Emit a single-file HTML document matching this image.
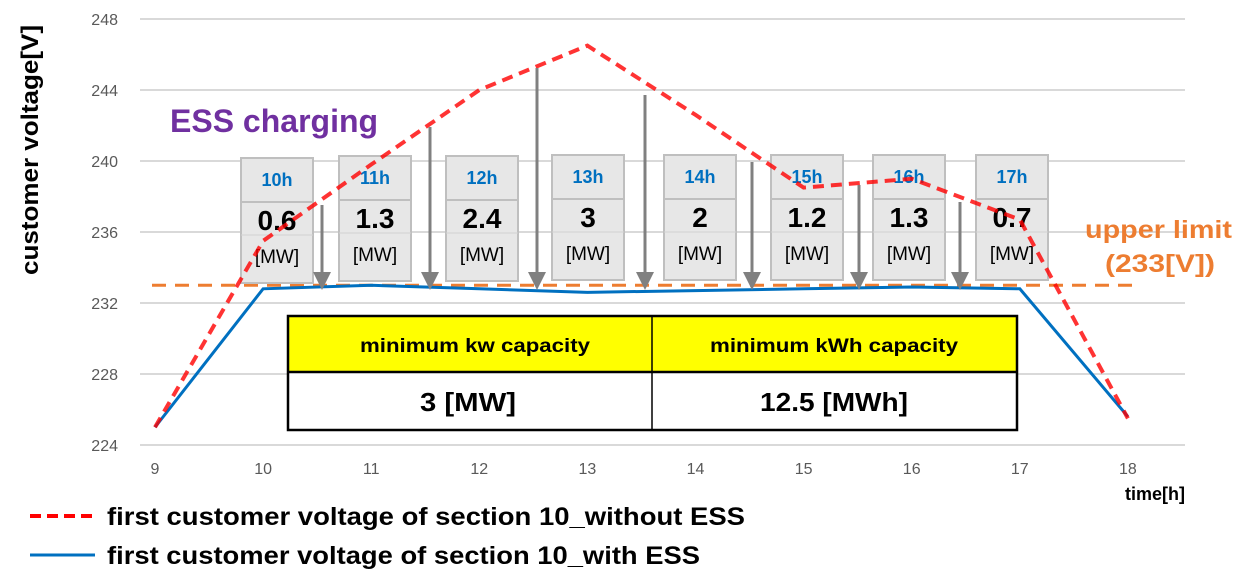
<!DOCTYPE html>
<html><head><meta charset="utf-8"><style>
body{margin:0;background:#fff;}
svg text{font-family:"Liberation Sans",sans-serif;}
</style></head><body>
<svg id="chart" width="1236" height="579" viewBox="0 0 1236 579" xmlns="http://www.w3.org/2000/svg">
<g id="grid"></g>
<g id="ylabels"></g>
<g id="xlabels"></g>
<g id="lines"></g>
<g id="boxes"></g>
<g id="redgroup"></g>
<g id="arrows"></g>
</svg>
<script>
const hours=[9,10,11,12,13,14,15,16,17,18];
const withoutESS=[225.0,235.5,239.8,244.0,246.5,242.6,238.5,239.0,236.7,225.5];
const withESS=[225.0,232.8,233.0,232.8,232.6,232.7,232.8,232.9,232.8,225.6];
const yTicks=[224,228,232,236,240,244,248];
const upperLimit=233;
const boxHours=["10h","11h","12h","13h","14h","15h","16h","17h"];
const boxMW=["0.6","1.3","2.4","3","2","1.2","1.3","0.7"];
const NS="http://www.w3.org/2000/svg";
const svg=document.getElementById('chart');
function X(h){return 155+(h-9)*108.1;}
function Y(v){return 445-(v-224)*17.75;}
function mk(tag,attrs,parent,text){const e=document.createElementNS(NS,tag);for(const k in attrs)e.setAttribute(k,attrs[k]);if(text!==undefined)e.textContent=text;(parent||svg).appendChild(e);return e;}
const grid=document.getElementById('grid'),yl=document.getElementById('ylabels'),xl=document.getElementById('xlabels'),ln=document.getElementById('lines'),bx=document.getElementById('boxes'),rg=document.getElementById('redgroup'),ag=document.getElementById('arrows');
yTicks.forEach(t=>{
 const g=mk('line',{x1:140,x2:1185,y1:Y(t),y2:Y(t),stroke:'#d9d9d9','stroke-width':2},grid);
 
 
 const l=mk('text',{x:118,y:Y(t)+6,'text-anchor':'end','font-size':16,fill:'#595959'},yl,String(t));
 
 
});
hours.forEach(h=>{
 const l=mk('text',{x:X(h),y:474,'text-anchor':'middle','font-size':16,fill:'#595959'},xl,String(h));
 
 
});
const ul=mk('line',{x1:152,x2:1135,y1:Y(upperLimit),y2:Y(upperLimit),stroke:'#ed7d31','stroke-width':3,'stroke-dasharray':'14 9'},ln);


const pb=mk('polyline',{points:hours.map((h,i)=>X(h)+','+Y(withESS[i])).join(' '),fill:'none',stroke:'#0070c0','stroke-width':3},ln);


const boxX=[241,339,446,552,664,771,873,976];
const boxY=[158,156,156,155,155,155,155,155];
const arrowX=[322,430,537,645,752,859,960];
const arrowTop=[205,127,68,95,162,185,202];
boxHours.forEach((hl,i)=>{
 const g=mk('g',{},bx);
 
 
 const x=boxX[i],y=boxY[i];
 mk('rect',{x:x,y:y,width:72,height:125,fill:'#e7e7e7',stroke:'#bfbfbf','stroke-width':2},g);
 mk('line',{x1:x,x2:x+72,y1:y+44,y2:y+44,stroke:'#bfbfbf','stroke-width':2},g);
 mk('line',{x1:x,x2:x+72,y1:y+77,y2:y+77,stroke:'#d0d0d0','stroke-width':1},g);
 mk('text',{x:x+36,y:y+28,'text-anchor':'middle','font-size':18,'font-weight':'bold',fill:'#0070c0'},g,hl);
 mk('text',{x:x+36,y:y+72,'text-anchor':'middle','font-size':28,'font-weight':'bold',fill:'#000'},g,boxMW[i]);
 mk('text',{x:x+36,y:y+105,'text-anchor':'middle','font-size':19,fill:'#000'},g,'[MW]');
});
const pr=mk('polyline',{points:hours.map((h,i)=>X(h)+','+Y(withoutESS[i])).join(' '),fill:'none',stroke:'#ff0000','stroke-width':4,'stroke-dasharray':'11 7',opacity:0.8},rg);


arrowX.forEach((ax,i)=>{
 const a=mk('g',{},ag);
 
 
 mk('line',{x1:ax,x2:ax,y1:arrowTop[i],y2:274,stroke:'#808080','stroke-width':3},a);
 mk('polygon',{points:(ax-9)+',272 '+(ax+9)+',272 '+ax+',290',fill:'#808080'},a);
});
</script>
<svg style="position:absolute;left:0;top:0" width="1236" height="579" xmlns="http://www.w3.org/2000/svg">
<text x="170" y="132" font-size="32" font-weight="bold" fill="#7030a0" font-family="Liberation Sans, sans-serif">ESS charging</text>
<text x="1085" y="238" textLength="147" lengthAdjust="spacingAndGlyphs" font-size="25" font-weight="bold" fill="#ed7d31" font-family="Liberation Sans, sans-serif">upper limit</text>
<text x="1105" y="272" textLength="110" lengthAdjust="spacingAndGlyphs" font-size="25" font-weight="bold" fill="#ed7d31" font-family="Liberation Sans, sans-serif">(233[V])</text>
<text transform="translate(38,150) rotate(-90)" text-anchor="middle" textLength="250" lengthAdjust="spacingAndGlyphs" font-size="24" font-weight="bold" fill="#000" font-family="Liberation Sans, sans-serif">customer voltage[V]</text>
<text x="1155" y="500" text-anchor="middle" font-size="18" font-weight="bold" fill="#000" font-family="Liberation Sans, sans-serif">time[h]</text>
<g font-family="Liberation Sans, sans-serif" font-weight="bold">
<rect x="288" y="316" width="729" height="56" fill="#ffff00"/>
<rect x="288" y="372" width="729" height="58" fill="#fff"/>
<rect x="288" y="316" width="729" height="114" fill="none" stroke="#000" stroke-width="2.5"/>
<line x1="288" x2="1017" y1="372" y2="372" stroke="#000" stroke-width="2.5"/>
<line x1="652" x2="652" y1="316" y2="430" stroke="#000" stroke-width="1.5"/>
<text x="360" y="352" textLength="230" lengthAdjust="spacingAndGlyphs" font-size="19">minimum kw capacity</text>
<text x="710" y="352" textLength="248" lengthAdjust="spacingAndGlyphs" font-size="19">minimum kWh capacity</text>
<text x="420" y="411" textLength="96" lengthAdjust="spacingAndGlyphs" font-size="26">3 [MW]</text>
<text x="760" y="411" textLength="148" lengthAdjust="spacingAndGlyphs" font-size="26">12.5 [MWh]</text>
</g>
<g>
<line x1="30" x2="95" y1="516" y2="516" stroke="#ff0000" stroke-width="4" stroke-dasharray="11 6"/>
<text x="107" y="525" textLength="638" lengthAdjust="spacingAndGlyphs" font-size="25" font-weight="bold" fill="#000" font-family="Liberation Sans, sans-serif">first customer voltage of section 10_without ESS</text>
</g>
<g>
<line x1="30" x2="95" y1="555" y2="555" stroke="#0070c0" stroke-width="3"/>
<text x="107" y="564" textLength="593" lengthAdjust="spacingAndGlyphs" font-size="25" font-weight="bold" fill="#000" font-family="Liberation Sans, sans-serif">first customer voltage of section 10_with ESS</text>
</g>
</svg>
</body></html>
